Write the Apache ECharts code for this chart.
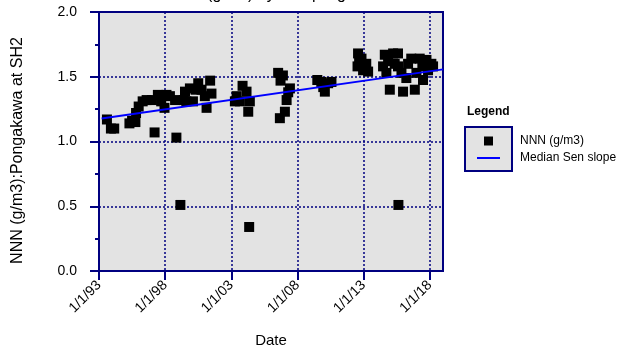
<!DOCTYPE html>
<html>
<head>
<meta charset="utf-8">
<script src="https://cdn.jsdelivr.net/npm/echarts@6/dist/echarts.min.js"></script>
<style>
html,body{margin:0;padding:0;background:#fff;}
#chart{width:622px;height:353px;}
</style>
</head>
<body>
<div id="chart"></div>
<script>
// ---- data (decimal year, value) ----
const nnnYears = [
  1993.6, 1993.9, 1994.15, 1995.3, 1995.5, 1995.75, 1995.8, 1996.0, 1996.3, 1996.6,
  1997.0, 1997.2, 1997.45, 1997.7, 1997.95, 1998.1, 1998.36, 1998.75, 1998.85, 1999.15,
  1999.4, 1999.5, 1999.6, 1999.87, 2000.1, 2000.3, 2000.5, 2000.75, 2001.0, 2001.13,
  2001.4, 2001.5,
  2003.27, 2003.4, 2003.65, 2003.85, 2004.15, 2004.28, 2004.35, 2004.4,
  2006.54, 2006.67, 2006.72, 2006.9, 2007.05, 2007.18, 2007.3, 2007.43,
  2009.5, 2009.8, 2009.95, 2010.07, 2010.32, 2010.57,
  2012.54, 2012.58, 2012.66, 2012.84, 2012.96, 2013.2, 2013.34,
  2014.47, 2014.6, 2014.72, 2014.85, 2014.98, 2015.23, 2015.35, 2015.6, 2015.6, 2015.63,
  2015.86, 2015.98, 2016.23, 2016.36, 2016.6, 2016.87, 2016.99, 2017.24, 2017.44, 2017.49,
  2017.75, 2017.87, 2018.12, 2018.25
];
const nnnValues = [
  1.17, 1.10, 1.10, 1.14, 1.16, 1.15, 1.22, 1.27, 1.31, 1.32,
  1.32, 1.07, 1.36, 1.31, 1.26, 1.36, 1.35, 1.32, 1.03, 0.51,
  1.32, 1.385, 1.31, 1.41, 1.31, 1.40, 1.45, 1.40, 1.35, 1.26,
  1.47, 1.37,
  1.31, 1.35, 1.31, 1.43, 1.385, 1.23, 0.34, 1.31,
  1.53, 1.18, 1.47, 1.51, 1.23, 1.32, 1.38, 1.41,
  1.475, 1.46, 1.42, 1.385, 1.45, 1.46,
  1.58, 1.68, 1.62, 1.64, 1.55, 1.60, 1.54,
  1.58, 1.67, 1.53, 1.62, 1.40, 1.68, 1.60, 1.68, 1.58, 0.51,
  1.53, 1.385, 1.49, 1.60, 1.64, 1.40, 1.53, 1.64, 1.58, 1.475,
  1.63, 1.55, 1.60, 1.58
];
const senYears = [1993.2, 2019.0];
const senValues = [1.178, 1.557];
const xTickYears = [1993, 1998, 2003, 2008, 2013, 2018];
const titleText = 'NNN (g/m3) by Sampling Date';
const yName = 'NNN (g/m3):Pongakawa at SH2';
const xName = 'Date';
const seriesNames = ['NNN (g/m3)', 'Median Sen slope'];

const NAVY = '#000080';
const chart = echarts.init(document.getElementById('chart'), null, {renderer: 'canvas'});
const pts = nnnYears.map((y, i) => [y, nnnValues[i]]);
const sen = senYears.map((y, i) => [y, senValues[i]]);
const fontFam = 'Liberation Sans, Arial, sans-serif';

chart.setOption({
  animation: false,
  backgroundColor: '#ffffff',
  title: {
    text: titleText, left: 271, textAlign: 'center', top: -18,
    textStyle: {fontFamily: fontFam, fontSize: 16, fontWeight: 'normal', color: '#000'}
  },
  grid: {
    left: 99, right: 179, top: 12, bottom: 82,
    show: true, backgroundColor: '#e3e3e3', borderColor: NAVY, borderWidth: 2
  },
  legend: {
    orient: 'vertical', left: 472, top: 130,
    itemWidth: 23, itemHeight: 9, itemGap: 5,
    data: [
      {name: seriesNames[0], icon: 'path://M0,0L10,0L10,10L0,10Z'},
      {name: seriesNames[1], icon: 'path://M0,0L23,0L23,2L0,2Z'}
    ],
    textStyle: {fontFamily: fontFam, fontSize: 12, color: '#000', padding: [0, 0, 0, 15]}
  },
  graphic: [
    {type: 'rect', z: 1, shape: {x: 465, y: 127, width: 47, height: 44},
     style: {fill: '#e3e3e3', stroke: NAVY, lineWidth: 2}},
    {type: 'text', z: 2, x: 467, y: 112,
     style: {text: 'Legend', font: 'bold 12px ' + fontFam, fill: '#000', textVerticalAlign: 'middle'}}
  ],
  xAxis: {
    type: 'value', min: 1993, max: 2019,
    name: xName, nameLocation: 'middle', nameGap: 62,
    nameTextStyle: {fontFamily: fontFam, fontSize: 15, color: '#000'},
    axisLine: {show: true, lineStyle: {color: NAVY, width: 2}},
    axisTick: {show: true, length: 9, customValues: xTickYears, lineStyle: {color: NAVY, width: 2}},
    axisLabel: {
      customValues: xTickYears, rotate: 45, margin: 12,
      fontFamily: fontFam, fontSize: 14, color: '#000',
      formatter: v => '1/1/' + String(Math.round(v) % 100).padStart(2, '0')
    },
    splitLine: {show: true, lineStyle: {color: NAVY, width: 1.5, type: [2, 2]}}
  },
  yAxis: {
    type: 'value', min: 0, max: 2, interval: 0.5,
    name: yName, nameLocation: 'middle', nameGap: 73,
    nameTextStyle: {fontFamily: fontFam, fontSize: 16, color: '#000', padding: [0, 18, 0, 0]},
    axisLine: {show: true, lineStyle: {color: NAVY, width: 2}},
    axisTick: {show: true, length: 9, lineStyle: {color: NAVY, width: 2}},
    minorTick: {show: true, splitNumber: 2, length: 4, lineStyle: {color: NAVY, width: 2}},
    axisLabel: {margin: 22, fontFamily: fontFam, fontSize: 14, color: '#000',
      formatter: v => v.toFixed(1)},
    splitLine: {show: true, lineStyle: {color: NAVY, width: 1.5, type: [2, 2]}}
  },
  series: [
    {
      name: seriesNames[0], type: 'scatter', data: pts,
      symbol: 'rect', symbolSize: 10, z: 3,
      itemStyle: {color: '#000', opacity: 1}
    },
    {
      name: seriesNames[1], type: 'line', data: sen,
      symbol: 'none', z: 4,
      lineStyle: {color: '#0000ff', width: 2}, itemStyle: {color: '#0000ff'}
    }
  ]
});
</script>
</body>
</html>
